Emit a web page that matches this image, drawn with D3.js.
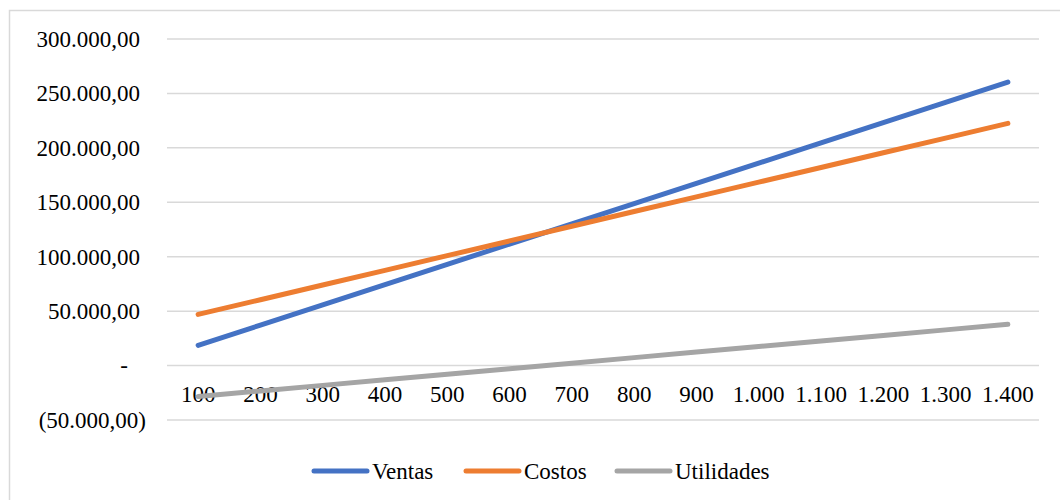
<!DOCTYPE html>
<html>
<head>
<meta charset="utf-8">
<script src="https://cdn.jsdelivr.net/npm/d3@7"></script>
<style>
  body { margin: 0; background: #fff; }
  text { font-family: "Liberation Serif", "Times New Roman", serif; fill: #000; }
</style>
</head>
<body>
<div class="graph"></div>
<script>
// units sold
var categories = ['100', '200', '300', '400', '500', '600', '700', '800', '900', '1.000', '1.100', '1.200', '1.300', '1.400'];

var ventas = [18600, 37200, 55800, 74400, 93000, 111600, 130200, 148800, 167400, 186000, 204600, 223200, 241800, 260400];
var costos = [47000, 60500, 74000, 87500, 101000, 114500, 128000, 141500, 155000, 168500, 182000, 195500, 209000, 222500];
var utilidades = [-28400, -23300, -18200, -13100, -8000, -2900, 2200, 7300, 12400, 17500, 22600, 27700, 32800, 37900];

var yTicks = [-50000, 0, 50000, 100000, 150000, 200000, 250000, 300000];
var yTickLabels = ['(50.000,00)', '-', '50.000,00', '100.000,00', '150.000,00', '200.000,00', '250.000,00', '300.000,00'];

var seriesNames = ['Ventas', 'Costos', 'Utilidades'];
var seriesColors = ['#4472C4', '#ED7D31', '#A5A5A5'];

var width = 1060,
    height = 500

var svg = d3.select('.graph')
  .append('svg')
  .attr('width', width)
  .attr('height', height);

// chart border (only top and left visible in the picture)
svg.append('rect')
  .attr('x', 9.5)
  .attr('y', 10.5)
  .attr('width', 1200)
  .attr('height', 600)
  .attr('fill', 'none')
  .attr('stroke', '#D9D9D9')
  .attr('stroke-width', 1.5);

var xScale = d3.scaleBand()
  .domain(categories)
  .range([167, 1039]);

var yScale = d3.scaleLinear()
  .domain([-50000, 300000])
  .range([420, 39]);

// gridlines
svg.append('g')
  .selectAll('line')
  .data(yTicks)
  .enter()
  .append('line')
  .attr('x1', 167)
  .attr('x2', 1039)
  .attr('y1', (d) => yScale(d))
  .attr('y2', (d) => yScale(d))
  .attr('stroke', '#D9D9D9')
  .attr('stroke-width', 1.5);

// y axis labels
var yAxis = d3.axisLeft(yScale)
  .tickValues(yTicks)
  .tickSize(0)
  .tickPadding(0)
  .tickFormat((d, i) => yTickLabels[i]);

var yAxisGroup = svg.append('g')
  .attr('transform', 'translate(140,0)')
  .call(yAxis);
yAxisGroup.select('.domain').remove();
yAxisGroup.selectAll('text')
  .attr('font-size', 23)
  .attr('font-family', null)
  .attr('fill', '#000')
  .attr('x', (d) => d < 0 ? 6 : (d === 0 ? -12 : 0));

// x axis labels sit next to the zero line
var xAxis = d3.axisBottom(xScale)
  .tickSize(0)
  .tickPadding(20);

var xAxisGroup = svg.append('g')
  .attr('transform', 'translate(0,' + yScale(0) + ')')
  .call(xAxis);
xAxisGroup.select('.domain').remove();
xAxisGroup.selectAll('text')
  .attr('font-size', 23)
  .attr('font-family', null)
  .attr('fill', '#000');

var line = d3.line()
  .x((d, i) => xScale(categories[i]) + xScale.bandwidth() / 2)
  .y((d) => yScale(d));

var allSeries = [ventas, costos, utilidades];

svg.append('g')
  .selectAll('path')
  .data(allSeries)
  .enter()
  .append('path')
  .attr('d', (d) => line(d))
  .attr('fill', 'none')
  .attr('stroke', (d, i) => seriesColors[i])
  .attr('stroke-width', 5)
  .attr('stroke-linecap', 'round')
  .attr('stroke-linejoin', 'round');

// legend
var legendX = [312, 464, 615];
var legend = svg.append('g')
  .selectAll('g')
  .data(seriesNames)
  .enter()
  .append('g')
  .attr('transform', (d, i) => 'translate(' + legendX[i] + ',471)');

legend.append('line')
  .attr('x1', 2)
  .attr('x2', 55)
  .attr('stroke', (d, i) => seriesColors[i])
  .attr('stroke-width', 5)
  .attr('stroke-linecap', 'round');

legend.append('text')
  .text((d) => d)
  .attr('x', 60)
  .attr('y', 8)
  .attr('font-size', 23);
</script>
</body>
</html>
